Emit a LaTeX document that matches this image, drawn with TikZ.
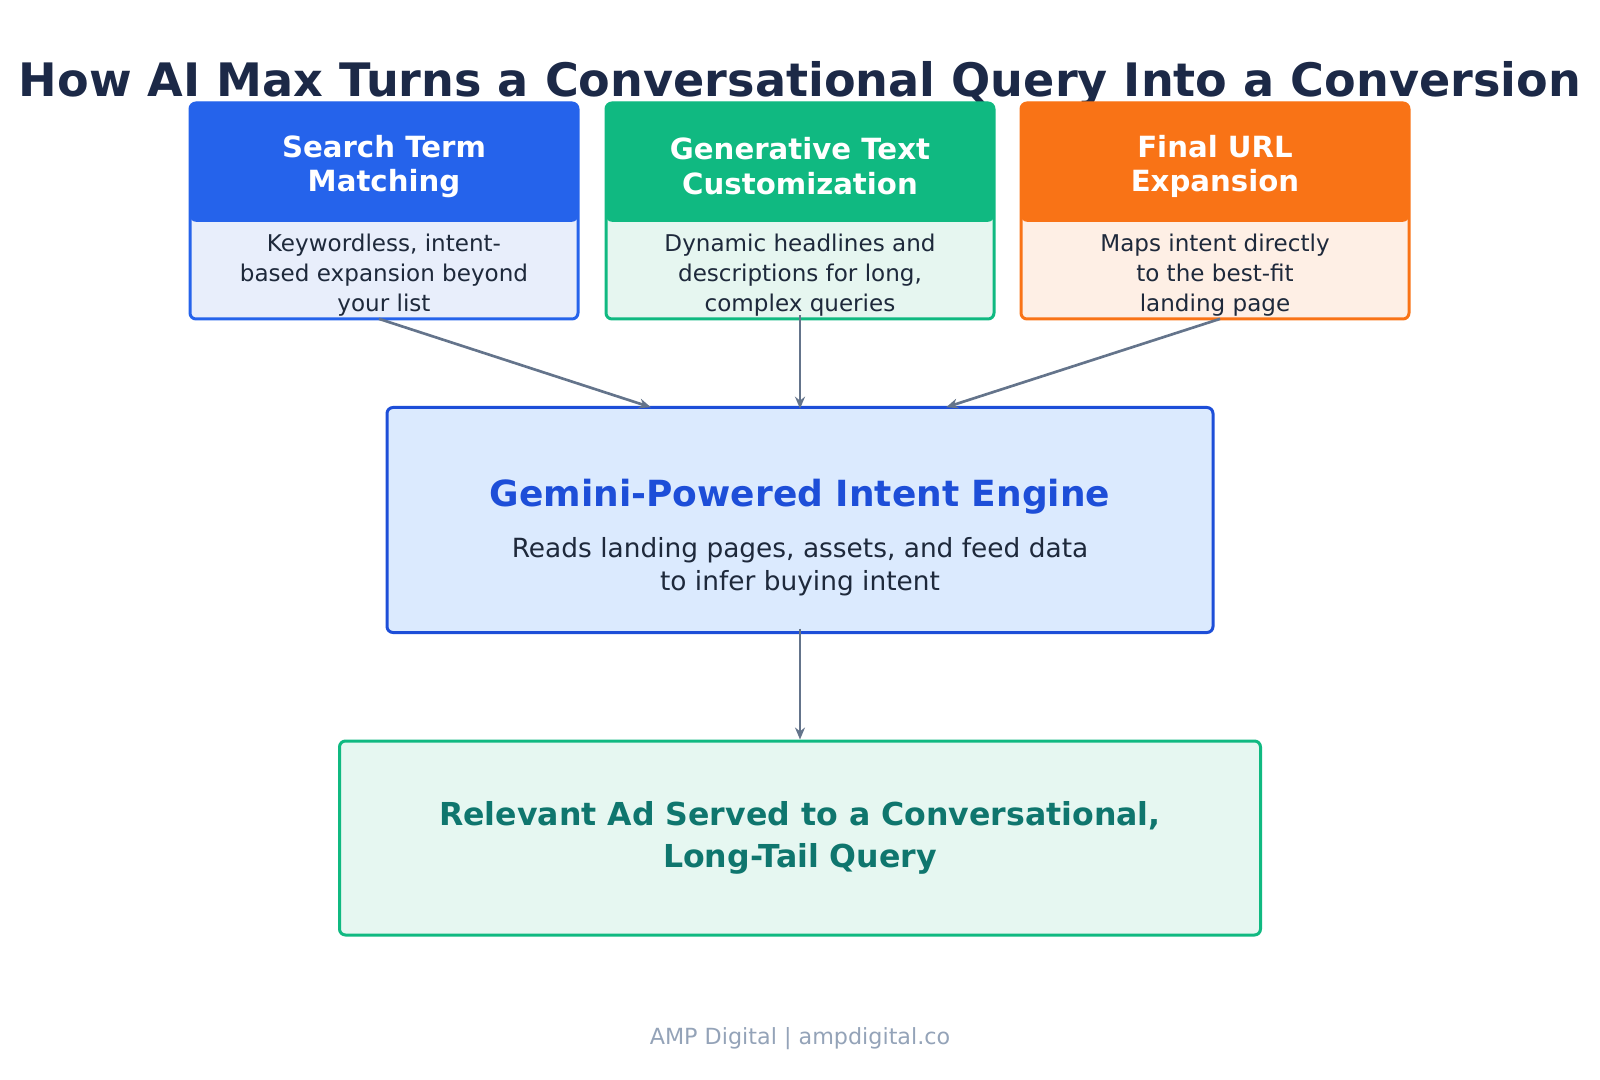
\documentclass[tikz,border=0pt]{standalone}
\usepackage{xcolor}
\usepackage{tikz}
\usetikzlibrary{arrows.meta, positioning, calc}
\usepackage{fontspec}
\setmainfont{DejaVu Sans}
\definecolor{titlecolor}{RGB}{28, 41, 71}
\definecolor{textcolor}{RGB}{30, 41, 59}
\definecolor{searchblue}{RGB}{37, 99, 235}
\definecolor{searchbg}{RGB}{232, 238, 251}
\definecolor{textgreen}{RGB}{16, 185, 129}
\definecolor{textgreenbg}{RGB}{230, 246, 240}
\definecolor{urlorange}{RGB}{249, 115, 22}
\definecolor{urlbg}{RGB}{254, 239, 229}
\definecolor{enginebg}{RGB}{219, 234, 254}
\definecolor{engineblue}{RGB}{29, 78, 216}
\definecolor{resultbg}{RGB}{230, 247, 241}
\definecolor{resultteal}{RGB}{15, 118, 110}
\definecolor{arrowgray}{RGB}{100, 116, 139}
\definecolor{footgray}{RGB}{148, 163, 184}

\begin{document}
\begin{tikzpicture}[
    x=0.75pt, y=-0.75pt,
    card/.style={draw=#1, line width=2.25pt, rounded corners=4.5pt, minimum width=291pt, minimum height=162pt},
    head/.style={fill=#1, rounded corners=4.5pt, minimum width=291pt, minimum height=90pt, inner sep=0pt},
    headtext/.style={text=white, align=center, font=\fontsize{21.9}{26}\selectfont\bfseries},
    desc/.style={minimum width=291pt, minimum height=72pt, inner sep=0pt, text=textcolor, align=center, font=\fontsize{17.3}{22.6}\selectfont},
    bigbox/.style={draw=#1, line width=2.25pt, rounded corners=4.5pt},
    arrow/.style={-{Stealth[length=9pt, width=7.5pt]}, line width=2pt, arrowgray}
]
    \useasboundingbox (0,0) rectangle (1600,1080);

    % Title
    \node[anchor=base, text=titlecolor, font=\fontsize{34.6}{40}\selectfont\bfseries] (title) at (800,97) {How AI Max Turns a Conversational Query Into a Conversion};

    % Top cards
    \node[card=searchblue, fill=searchbg] (cardA) at (384,211) {};
    \node[head=searchblue, anchor=north] (headA) at (cardA.north) {};
    \node[headtext] (titleA) at ([yshift=-3.5pt]headA.center) {Search Term\\Matching};
    \node[desc, below=0pt of headA, yshift=-3.5pt] (descA) {Keywordless, intent-\\based expansion beyond\\your list};

    \node[card=textgreen, fill=textgreenbg] (cardB) at (800,211) {};
    \node[head=textgreen, anchor=north] (headB) at (cardB.north) {};
    \node[headtext] (titleB) at ([yshift=-3.5pt]headB.center) {Generative Text\\Customization};
    \node[desc, below=0pt of headB, yshift=-3.5pt] (descB) {Dynamic headlines and\\descriptions for long,\\complex queries};

    \node[card=urlorange, fill=urlbg] (cardC) at (1215,211) {};
    \node[head=urlorange, anchor=north] (headC) at (cardC.north) {};
    \node[headtext] (titleC) at ([yshift=-3.5pt]headC.center) {Final URL\\Expansion};
    \node[desc, below=0pt of headC, yshift=-3.5pt] (descC) {Maps intent directly\\to the best-fit\\landing page};

    % Engine
    \node[bigbox=engineblue, fill=enginebg, minimum width=619.5pt, minimum height=168.75pt] (engine) at (800,520) {};
    \node[text=engineblue, font=\fontsize{27}{32}\selectfont\bfseries] (enginetitle) at (800,497) {Gemini-Powered Intent Engine};
    \node[text=textcolor, align=center, font=\fontsize{19.8}{24.5}\selectfont] (enginetext) at (800,567) {Reads landing pages, assets, and feed data\\to infer buying intent};

    % Result
    \node[bigbox=textgreen, fill=resultbg, minimum width=690.75pt, minimum height=145.5pt, text=resultteal, align=center, font=\fontsize{23.7}{31.5}\selectfont\bfseries] (result) at (800,838) {Relevant Ad Served to a Conversational,\\Long-Tail Query};

    % Footer
    \node[anchor=base, text=footgray, font=\fontsize{16.7}{20}\selectfont] (footer) at (800,1044) {AMP Digital | ampdigital.co};

    % Arrows
    \draw[arrow, shorten <=-4pt, shorten >=-3pt] (cardA.south) -- ($(engine.north)+(-153,0)$);
    \draw[arrow, shorten <=-4pt, shorten >=-2pt] (cardB.south) -- (engine.north);
    \draw[arrow, shorten <=-4pt, shorten >=-3pt] (cardC.south) -- ($(engine.north)+(150,0)$);
    \draw[arrow, shorten <=-4pt] (engine.south) -- (result.north);
\end{tikzpicture}
\end{document}
